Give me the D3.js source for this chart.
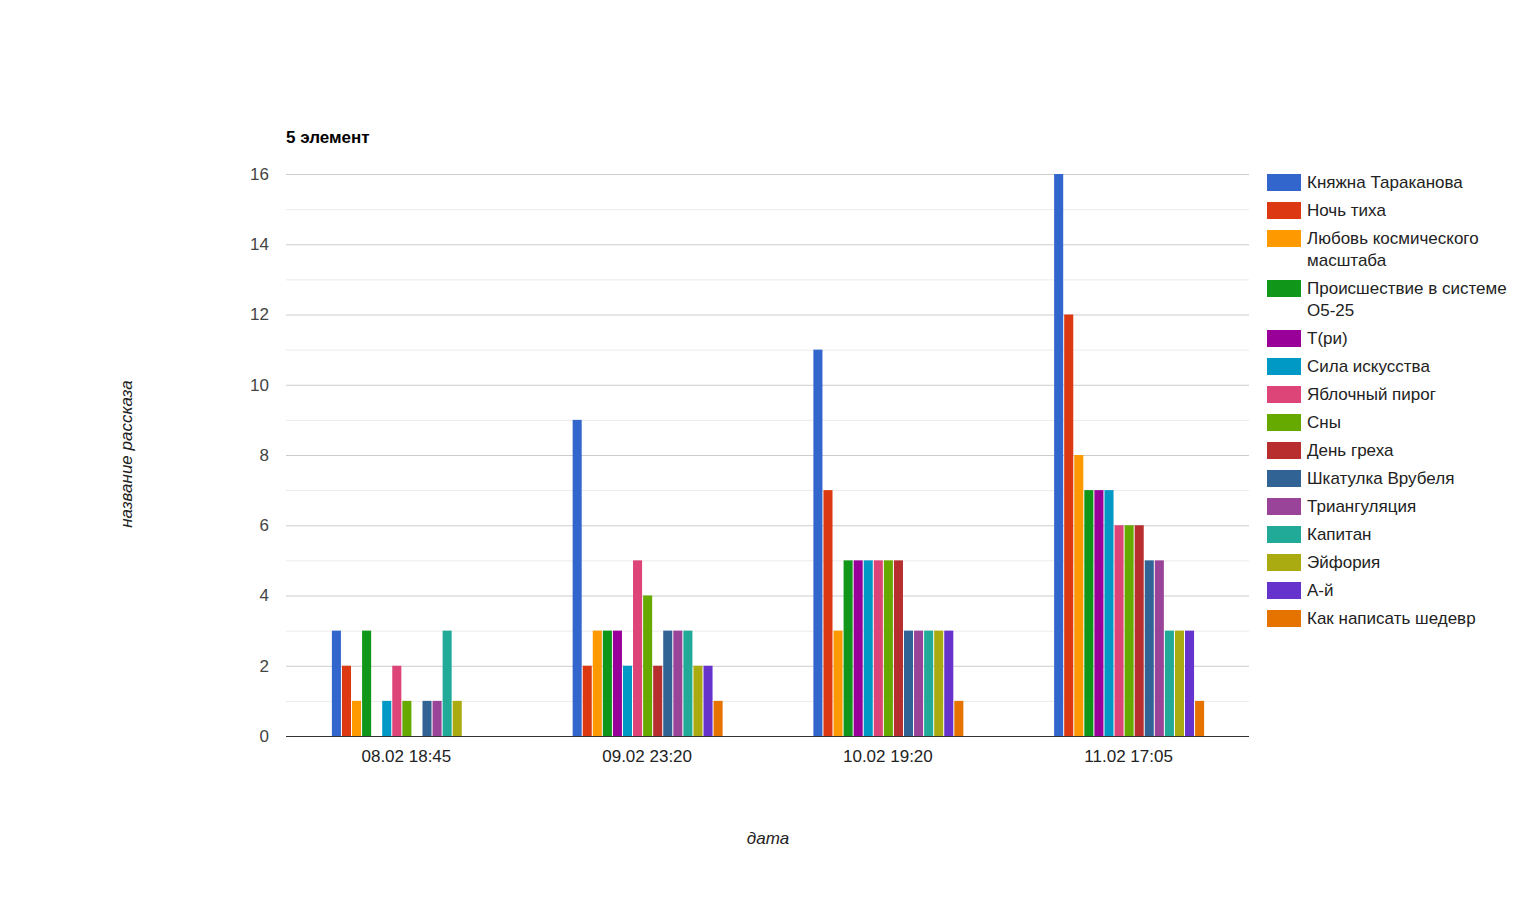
<!DOCTYPE html>
<html>
<head>
<meta charset="utf-8">
<script src="https://cdn.jsdelivr.net/npm/d3@7"></script>
<style>
  body { margin: 0; background: #fff; }
  svg { font-family: "Liberation Sans", Arial, sans-serif; }
</style>
</head>
<body>
<svg id="chart" width="1535" height="911"></svg>
<script>
// dates on the x axis
const dates = ["08.02 18:45", "09.02 23:20", "10.02 19:20", "11.02 17:05"];

// story names (legend order)
const stories = ["Княжна Тараканова", "Ночь тиха", "Любовь космического масштаба",
    "Происшествие в системе О5-25", "Т(ри)", "Сила искусства", "Яблочный пирог", "Сны",
    "День греха", "Шкатулка Врубеля", "Триангуляция", "Капитан", "Эйфория", "А-й",
    "Как написать шедевр"];

const colors = ["#3366cc", "#dc3912", "#ff9900", "#109618", "#990099", "#0099c6", "#dd4477",
    "#66aa00", "#b82e2e", "#316395", "#994499", "#22aa99", "#aaaa11", "#6633cc", "#e67300"];

// values per date, one per story
const v0802 = [3, 2, 1, 3, 0, 1, 2, 1, 0, 1, 1, 3, 1, 0, 0];
const v0902 = [9, 2, 3, 3, 3, 2, 5, 4, 2, 3, 3, 3, 2, 2, 1];
const v1002 = [11, 7, 3, 5, 5, 5, 5, 5, 5, 3, 3, 3, 3, 3, 1];
const v1102 = [16, 12, 8, 7, 7, 7, 6, 6, 6, 5, 5, 3, 3, 3, 1];
const valuesByDate = [v0802, v0902, v1002, v1102];

const yTicks = [0, 2, 4, 6, 8, 10, 12, 14, 16];

const svg = d3.select("#chart");
const plotLeft = 286, plotRight = 1249, plotTop = 174, plotBottom = 736;
const fs = "17px";

const x0 = d3.scaleBand().domain(dates).range([plotLeft, plotRight])
    .paddingInner(0.377).paddingOuter(0.1885);
const x1 = d3.scaleBand().domain(stories).range([0, x0.bandwidth()]).paddingInner(0.1).paddingOuter(0);
const y = d3.scaleLinear().domain([0, 16]).range([plotBottom, plotTop]);

// minor gridlines at odd values
svg.append("g").selectAll("line")
    .data(d3.range(1, 16, 2))
    .join("line")
    .attr("x1", plotLeft).attr("x2", plotRight)
    .attr("y1", d => y(d) + 0.5).attr("y2", d => y(d) + 0.5)
    .attr("stroke", "#ebebeb");

// major gridlines
svg.append("g").selectAll("line")
    .data(yTicks.filter(d => d > 0))
    .join("line")
    .attr("x1", plotLeft).attr("x2", plotRight)
    .attr("y1", d => y(d) + 0.5).attr("y2", d => y(d) + 0.5)
    .attr("stroke", "#cccccc");

// y tick labels
svg.append("g").selectAll("text")
    .data(yTicks)
    .join("text")
    .attr("x", 269)
    .attr("y", d => y(d))
    .attr("dy", "0.35em")
    .attr("text-anchor", "end")
    .attr("font-size", fs)
    .attr("fill", "#444")
    .text(d => d);

// bars
const groups = svg.append("g").selectAll("g")
    .data(dates)
    .join("g")
    .attr("transform", d => `translate(${x0(d) + 0.5},0)`);

groups.selectAll("rect")
    .data((d, i) => valuesByDate[i].map((v, j) => ({story: stories[j], value: v, color: colors[j]})))
    .join("rect")
    .attr("x", d => x1(d.story))
    .attr("width", x1.bandwidth())
    .attr("y", d => y(d.value))
    .attr("height", d => y(0) - y(d.value))
    .attr("fill", d => d.color);

// baseline
svg.append("line")
    .attr("x1", plotLeft).attr("x2", plotRight)
    .attr("y1", plotBottom + 0.5).attr("y2", plotBottom + 0.5)
    .attr("stroke", "#333").attr("stroke-width", 1);

// x labels
svg.append("g").selectAll("text")
    .data(dates)
    .join("text")
    .attr("x", d => x0(d) + x0.bandwidth() / 2)
    .attr("y", 756)
    .attr("dy", "0.35em")
    .attr("text-anchor", "middle")
    .attr("font-size", fs)
    .attr("fill", "#222")
    .text(d => d);

// title
svg.append("text")
    .attr("x", plotLeft).attr("y", 143)
    .attr("font-size", fs)
    .attr("font-weight", "bold")
    .attr("fill", "#000")
    .text("5 элемент");

// axis titles
svg.append("text")
    .attr("transform", "translate(126,454) rotate(-90)")
    .attr("text-anchor", "middle")
    .attr("dy", "0.35em")
    .attr("font-size", fs)
    .attr("font-style", "italic")
    .attr("fill", "#222")
    .text("название рассказа");

svg.append("text")
    .attr("x", 768).attr("y", 838)
    .attr("dy", "0.35em")
    .attr("text-anchor", "middle")
    .attr("font-size", fs)
    .attr("font-style", "italic")
    .attr("fill", "#222")
    .text("дата");

// legend with word wrapping
const legend = svg.append("g");
let ly = 182;
stories.forEach((name, i) => {
    legend.append("rect")
        .attr("x", 1267).attr("y", ly - 8)
        .attr("width", 34).attr("height", 17)
        .attr("fill", colors[i]);
    const t = legend.append("text")
        .attr("x", 1307)
        .attr("font-size", fs)
        .attr("fill", "#222");
    const words = name.split(" ");
    let lines = [], cur = "";
    words.forEach(w => {
        const test = cur ? cur + " " + w : w;
        t.text(test);
        if (t.node().getComputedTextLength() > 222 && cur) {
            lines.push(cur);
            cur = w;
        } else {
            cur = test;
        }
    });
    lines.push(cur);
    t.text(null);
    lines.forEach((ln, k) => {
        t.append("tspan")
            .attr("x", 1307)
            .attr("y", ly + k * 22)
            .attr("dy", "0.35em")
            .text(ln);
    });
    ly += 28 + (lines.length - 1) * 22;
});
</script>
</body>
</html>
